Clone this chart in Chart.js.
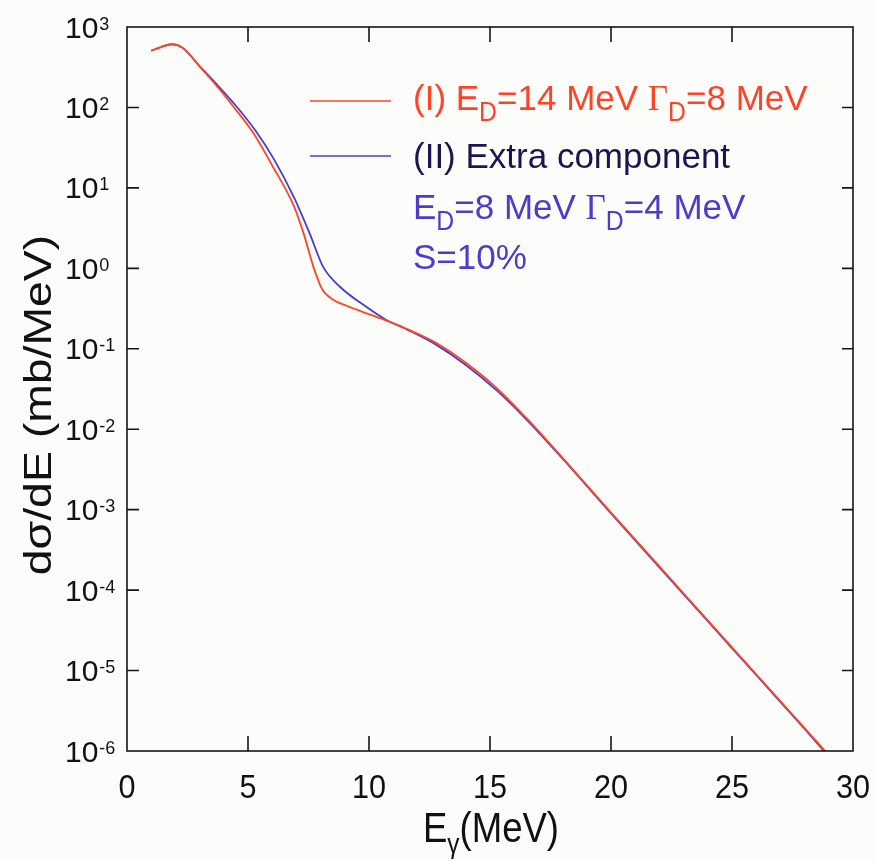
<!DOCTYPE html>
<html>
<head>
<meta charset="utf-8">
<script src="https://cdn.jsdelivr.net/npm/chart.js@4.4.1/dist/chart.umd.min.js"></script>
<style>
  html, body { margin: 0; padding: 0; background: #fcfcfa; }
  #wrap { width: 875px; height: 861px; }
</style>
</head>
<body>
<div id="wrap"><canvas id="myChart" width="875" height="861"></canvas></div>
<script>
// curve (I): E_D=14 MeV, Gamma_D=8 MeV
const redE     = [1, 1.4, 1.85, 2.3, 3.0, 3.7, 4.4, 5.2, 6.0, 6.9, 7.3, 7.7, 8.05, 8.5, 9.1, 9.7, 10.45, 11.5, 12.8, 14.0, 15.3, 16.5, 18, 20, 22, 24, 26, 28, 28.85];
const redSigma = [507, 562, 610, 550, 324, 186, 102, 49, 19, 5.9, 2.7, 1.05, 0.56, 0.41, 0.34, 0.29, 0.24, 0.18, 0.117, 0.067, 0.032, 0.0138, 0.0044, 9.2e-4, 1.97e-4, 4.2e-5, 9.0e-6, 1.93e-6, 1.0e-6];

// curve (II): extra component E_D=8 MeV, Gamma_D=4 MeV, S=10%
const blueE     = [1, 1.4, 1.85, 2.3, 3.0, 3.7, 4.5, 5.3, 6.1, 6.9, 7.55, 8.1, 8.8, 9.9, 10.7, 11.6, 12.8, 14.0, 15.3, 16.5, 18, 20, 22, 24, 26, 28, 28.8];
const blueSigma = [507, 562, 610, 550, 327, 195, 105, 52, 22, 7.6, 2.7, 1.05, 0.59, 0.33, 0.23, 0.172, 0.111, 0.063, 0.030, 0.0133, 0.0043, 9.0e-4, 1.92e-4, 4.1e-5, 8.8e-6, 1.88e-6, 1.0e-6];

const xTicks = [0, 5, 10, 15, 20, 25, 30];
const yPowers = [3, 2, 1, 0, -1, -2, -3, -4, -5, -6];

const RED = '#ff4426';
const BLUE = '#4b3ccc';
const NAVY = '#1c1452';
const SANS = '"Liberation Sans", Arial, sans-serif';
const SERIF = '"Liberation Serif", "Times New Roman", serif';

function pts(xs, ys) {
  return xs.map(function(x, i) { return { x: x, y: ys[i] }; });
}

// text with horizontal stretch, returns advance width
function txt(ctx, s, x, y, size, color, sx, align, family) {
  ctx.save();
  ctx.font = size + 'px ' + (family || SANS);
  ctx.fillStyle = color;
  ctx.textAlign = align || 'left';
  ctx.textBaseline = 'alphabetic';
  ctx.translate(x, y);
  ctx.scale(sx || 1, 1);
  ctx.fillText(s, 0, 0);
  var w = ctx.measureText(s).width * (sx || 1);
  ctx.restore();
  return w;
}

// pieces: [text, kind] kind: 'n' normal, 's' subscript, 'g' serif gamma
function richLine(ctx, pieces, x, y, color) {
  var cx = x;
  pieces.forEach(function(p) {
    if (p[1] === 's') cx += txt(ctx, p[0], cx, y + 11, 27, color, 0.92);
    else if (p[1] === 'g') cx += txt(ctx, p[0], cx, y, 35, color, 1, 'left', SERIF);
    else cx += txt(ctx, p[0], cx, y, 35, color, 1);
  });
}

const framePlugin = {
  id: 'frame',
  afterDraw: function(chart) {
    const ctx = chart.ctx;
    const a = chart.chartArea;
    const xs = chart.scales.x, ys = chart.scales.y;

    ctx.save();
    ctx.strokeStyle = '#151515';
    ctx.lineWidth = 1.6;
    ctx.strokeRect(a.left, a.top, a.right - a.left, a.bottom - a.top);

    ctx.beginPath();
    xTicks.forEach(function(v) {
      var px = xs.getPixelForValue(v);
      if (v > 0 && v < 30) {
        ctx.moveTo(px, a.bottom); ctx.lineTo(px, a.bottom - 15);
        ctx.moveTo(px, a.top); ctx.lineTo(px, a.top + 15);
      }
    });
    yPowers.forEach(function(p) {
      var py = ys.getPixelForValue(Math.pow(10, p));
      if (p < 3 && p > -6) {
        ctx.moveTo(a.left, py); ctx.lineTo(a.left + 12, py);
        ctx.moveTo(a.right, py); ctx.lineTo(a.right - 11, py);
      }
    });
    ctx.stroke();

    // legend samples
    ctx.lineWidth = 1.6;
    ctx.strokeStyle = RED;
    ctx.beginPath(); ctx.moveTo(310, 101); ctx.lineTo(391, 101); ctx.stroke();
    ctx.strokeStyle = BLUE;
    ctx.beginPath(); ctx.moveTo(310, 156); ctx.lineTo(391, 156); ctx.stroke();
    ctx.restore();

    // y tick labels
    yPowers.forEach(function(p) {
      var py = ys.getPixelForValue(Math.pow(10, p));
      var w = txt(ctx, '10', 65, py + 10.5, 30, '#111');
      txt(ctx, String(p), 65 + w + 1, py + 2.5, 18, '#111');
    });
    // x tick labels
    xTicks.forEach(function(v) {
      txt(ctx, String(v), xs.getPixelForValue(v), 798, 34, '#111', 0.9, 'center');
    });

    // x title
    var cx = 423;
    cx += txt(ctx, 'E', cx, 842, 42, '#111', 0.87);
    cx += txt(ctx, '\u03b3', cx, 853, 28, '#111', 0.87);
    txt(ctx, '(MeV)', cx, 842, 42, '#111', 0.87);

    // y title
    ctx.save();
    ctx.translate(51, 405);
    ctx.rotate(-Math.PI / 2);
    ctx.scale(1.22, 1);
    ctx.font = '38px ' + SANS;
    ctx.fillStyle = '#111';
    ctx.textAlign = 'center';
    ctx.fillText('d\u03c3/dE (mb/MeV)', 0, 0);
    ctx.restore();

    // legend text
    richLine(ctx, [['(I) E', 'n'], ['D', 's'], ['=14 MeV ', 'n'], ['\u0393', 'g'], ['D', 's'], ['=8 MeV', 'n']], 413, 110, RED);
    richLine(ctx, [['(II) Extra component', 'n']], 413, 168, NAVY);
    richLine(ctx, [['E', 'n'], ['D', 's'], ['=8 MeV ', 'n'], ['\u0393', 'g'], ['D', 's'], ['=4 MeV', 'n']], 413, 219, BLUE);
    richLine(ctx, [['S=10%', 'n']], 413, 269, BLUE);
  }
};

window.addEventListener('load', function() {
  new Chart('myChart', {
    type: 'line',
    data: {
      datasets: [
        {
          label: '(I)',
          data: pts(redE, redSigma),
          borderColor: RED,
          borderWidth: 1.8,
          pointRadius: 0,
          cubicInterpolationMode: 'monotone',
          fill: false
        },
        {
          label: '(II)',
          data: pts(blueE, blueSigma),
          borderColor: BLUE,
          borderWidth: 1.8,
          pointRadius: 0,
          cubicInterpolationMode: 'monotone',
          fill: false
        }
      ]
    },
    options: {
      responsive: false,
      animation: false,
      layout: { padding: { left: 127, right: 22, top: 27, bottom: 110 } },
      scales: {
        x: { type: 'linear', min: 0, max: 30, display: false },
        y: { type: 'logarithmic', min: 1e-6, max: 1e3, display: false }
      },
      plugins: {
        legend: { display: false },
        tooltip: { enabled: false }
      }
    },
    plugins: [framePlugin]
  });
});
</script>
</body>
</html>
